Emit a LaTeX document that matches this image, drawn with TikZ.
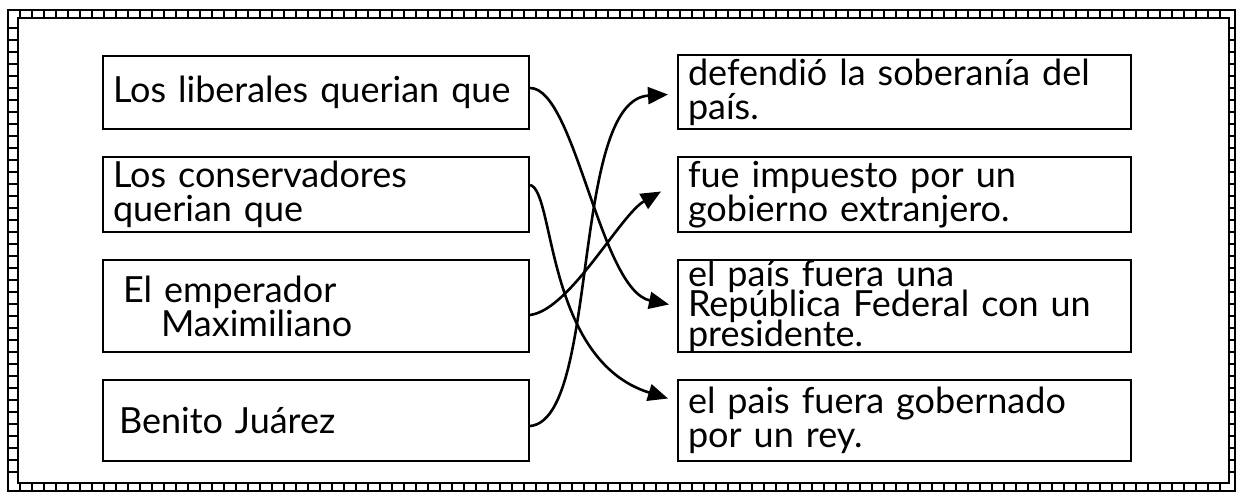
\documentclass[tikz,border=0pt]{standalone}
\usepackage{fontspec}
\setmainfont{Lato}
\usetikzlibrary{positioning,arrows.meta}

\begin{document}
\begin{tikzpicture}[
  x=1pt, y=1pt,
  node distance=13pt and 73.5pt,
  every node/.style={font=\fontsize{18}{17}\selectfont},
  leftbox/.style={draw, line width=1pt, align=left, text width=203pt, inner xsep=5pt, inner ysep=1pt},
  rightbox/.style={draw, line width=1pt, align=left, text width=216.5pt, inner xsep=5pt, inner ysep=1pt},
  frameline/.style={line width=0.9pt},
  tick/.style={line width=0.6pt},
  arrow/.style={-{Triangle[length=10pt,width=8.5pt]}, line width=1.3pt}
]
\useasboundingbox (0,0) rectangle (619,-246);

% Ladder frame
\draw[frameline] (4,-5) rectangle (617.5,-245.5);
\draw[frameline] (9,-9) rectangle (614.5,-241.5);
\foreach \x in {10,16,...,610} {
  \draw[tick] (\x,-5) -- (\x,-9);
  \draw[tick] (\x,-241.5) -- (\x,-245.5);
}
\foreach \y in {-14,-20,...,-238} {
  \draw[tick] (4,\y) -- (9,\y);
  \draw[tick] (614.5,\y) -- (617.5,\y);
}

% Left column
\node[leftbox, minimum height=36.5pt] (liberales) at (158,-46.25) {Los liberales querian que};
\node[leftbox, minimum height=37.5pt, below=of liberales] (conservadores) {Los conservadores\\querian que};
\node[leftbox, minimum height=46pt, below=of conservadores] (maximiliano) {\hspace*{5pt}El emperador\\\hspace*{24pt}Maximiliano};
\node[leftbox, minimum height=40.5pt, below=of maximiliano] (juarez) {\hspace*{3pt}Benito Juárez};

% Right column
\node[rightbox, minimum height=37pt, right=of liberales] (soberania) {defendió la soberanía del\\país.};
\node[rightbox, minimum height=37pt, below=of soberania] (extranjero) {fue impuesto por un\\gobierno extranjero.};
\node[rightbox, minimum height=46pt, below=of extranjero, inner ysep=0pt, text height=13.5pt, text depth=32.5pt] (republica) {el país fuera una\\[-2pt]República Federal con un\\[-2pt]presidente.};
\node[rightbox, minimum height=40.5pt, below=of republica] (rey) {el pais fuera gobernado\\por un rey.};

% Connectors
\draw[arrow] ([yshift=2.25pt]liberales.east) .. controls (287.5,-44) and (300,-145) .. ([xshift=-4pt,yshift=0.5pt]republica.west);
\draw[arrow] ([yshift=4.75pt]conservadores.east) .. controls (277.5,-95) and (272.5,-180) .. ([xshift=-4.5pt,yshift=10.75pt]rey.west);
\draw[arrow] ([yshift=-4.5pt]maximiliano.east) .. controls (285,-155) and (310,-107.5) .. ([xshift=-8pt,yshift=1.5pt]extranjero.west);
\draw[arrow] ([yshift=-2.75pt]juarez.east) .. controls (300,-210) and (285,-50) .. ([xshift=-4.5pt,yshift=-1pt]soberania.west);
\end{tikzpicture}
\end{document}
